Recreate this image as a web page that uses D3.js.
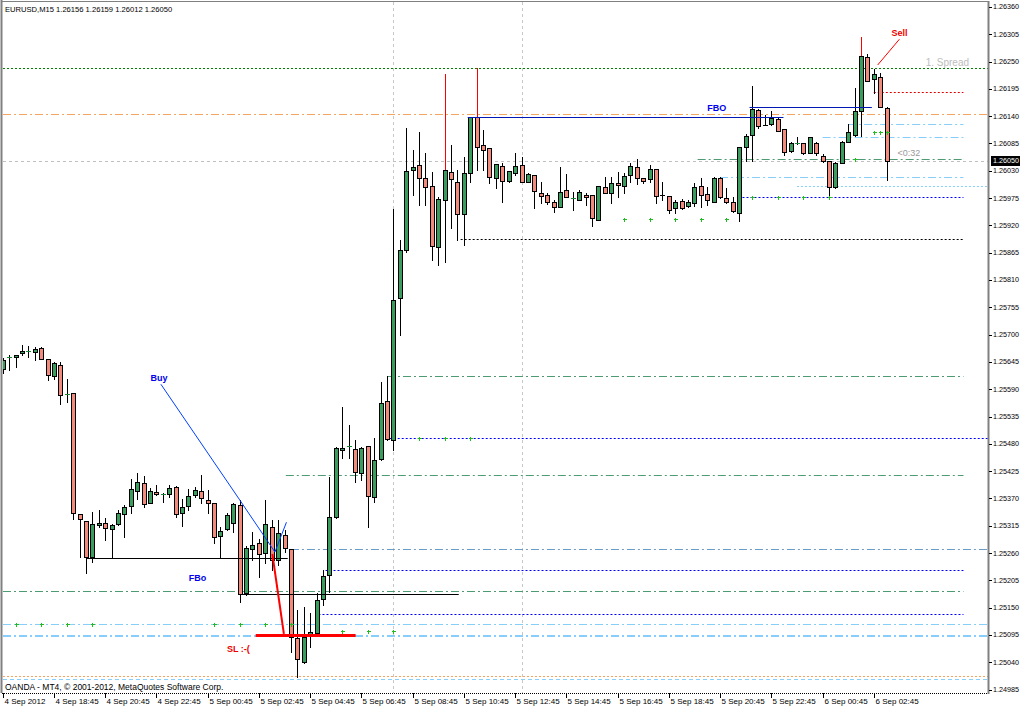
<!DOCTYPE html>
<html><head><meta charset="utf-8">
<script src="https://cdnjs.cloudflare.com/ajax/libs/d3/7.8.5/d3.min.js"></script>
<style>body{margin:0;background:#fff}svg{display:block}</style>
</head><body><svg id="c" width="1020" height="707"></svg>
<script>
// ---------- DATA ----------
const symbolTitle = "EURUSD,M15  1.26156 1.26159 1.26012 1.26050";
const footerText = "OANDA - MT4, \u00a9 2001-2012, MetaQuotes Software Corp.";
const barOpen = [
1.25630,1.25653,1.25655,1.25663,1.25665,1.25665,1.25673,1.25651,1.25616,1.25639,
1.25580,1.25582,1.25338,1.25324,1.25252,1.25316,1.25320,1.25308,1.25318,1.25338,
1.25354,1.25385,1.25401,1.25361,1.25383,1.25377,1.25379,1.25393,1.25340,1.25354,
1.25377,1.25385,1.25367,1.25361,1.25294,1.25308,1.25320,1.25356,1.25179,1.25268,
1.25280,1.25260,1.25312,1.25246,1.25296,1.25268,1.25088,1.25040,1.25092,1.25098,
1.25167,1.25215,1.25332,1.25467,1.25473,1.25469,1.25421,1.25475,1.25373,1.25449,
1.25566,1.25487,1.25774,1.25870,1.26031,1.26042,1.26015,1.25999,1.25876,1.25971,
1.26027,1.26007,1.25943,1.26025,1.26138,1.26082,1.26076,1.26015,1.26040,1.26009,
1.26025,1.26042,1.26007,1.26021,1.25985,1.25981,1.25967,1.25957,1.25991,1.25975,
1.25971,1.25981,1.25981,1.25931,1.25997,1.25985,1.26005,1.25999,1.26021,1.26038,
1.26015,1.26013,1.26034,1.25983,1.25979,1.25955,1.25969,1.25959,1.25965,1.25999,
1.25983,1.25967,1.26015,1.25975,1.25967,1.25945,1.26078,1.26102,1.26152,1.26124,
1.26124,1.26134,1.26114,1.26070,1.26084,1.26086,1.26066,1.26086,1.26060,1.26050,
1.25997,1.26046,1.26088,1.26102,1.26150,1.26259,1.26215,1.26219,1.26156];
const barHigh = [
1.25653,1.25659,1.25659,1.25679,1.25677,1.25675,1.25675,1.25651,1.25645,1.25645,
1.25610,1.25582,1.25338,1.25324,1.25342,1.25346,1.25330,1.25318,1.25346,1.25356,
1.25409,1.25421,1.25415,1.25391,1.25397,1.25381,1.25397,1.25395,1.25369,1.25389,
1.25393,1.25417,1.25387,1.25361,1.25312,1.25340,1.25361,1.25367,1.25274,1.25302,
1.25288,1.25367,1.25326,1.25326,1.25306,1.25268,1.25145,1.25151,1.25139,1.25179,
1.25225,1.25413,1.25473,1.25554,1.25518,1.25487,1.25473,1.25475,1.25491,1.25604,
1.25616,1.25953,1.25890,1.26116,1.26072,1.26108,1.26066,1.26027,1.25977,1.26225,
1.26082,1.26031,1.26058,1.26138,1.26237,1.26112,1.26076,1.26044,1.26046,1.26029,
1.26066,1.26058,1.26025,1.26021,1.26007,1.25985,1.25971,1.26038,1.26023,1.25987,
1.25991,1.25985,1.25981,1.25999,1.26017,1.26017,1.26027,1.26025,1.26046,1.26054,
1.26015,1.26042,1.26034,1.26007,1.25979,1.25971,1.25973,1.25971,1.26005,1.26015,
1.25997,1.26017,1.26017,1.25995,1.25977,1.26078,1.26104,1.26201,1.26154,1.26142,
1.26150,1.26138,1.26114,1.26088,1.26098,1.26086,1.26098,1.26088,1.26064,1.26050,
1.26048,1.26090,1.26124,1.26197,1.26299,1.26265,1.26235,1.26227,1.26159];
const barLow = [
1.25622,1.25628,1.25635,1.25659,1.25655,1.25649,1.25651,1.25608,1.25610,1.25560,
1.25564,1.25328,1.25252,1.25219,1.25242,1.25312,1.25286,1.25250,1.25316,1.25292,
1.25340,1.25369,1.25352,1.25361,1.25377,1.25363,1.25373,1.25332,1.25314,1.25346,
1.25373,1.25361,1.25340,1.25280,1.25252,1.25306,1.25302,1.25161,1.25175,1.25246,
1.25211,1.25240,1.25225,1.25236,1.25262,1.25060,1.25010,1.25038,1.25070,1.25096,
1.25155,1.25181,1.25330,1.25451,1.25451,1.25403,1.25407,1.25312,1.25363,1.25447,
1.25487,1.25467,1.25699,1.25866,1.25981,1.25961,1.25961,1.25850,1.25840,1.25846,
1.25915,1.25890,1.25880,1.26007,1.26031,1.26031,1.26005,1.25995,1.25967,1.26007,
1.26021,1.26007,1.26007,1.25955,1.25965,1.25963,1.25947,1.25957,1.25977,1.25951,
1.25971,1.25961,1.25919,1.25931,1.25985,1.25965,1.25977,1.25985,1.26007,1.26003,
1.26005,1.26007,1.25965,1.25971,1.25945,1.25945,1.25953,1.25957,1.25959,1.25957,
1.25961,1.25967,1.25975,1.25965,1.25947,1.25929,1.26050,1.26050,1.26116,1.26122,
1.26122,1.26110,1.26062,1.26068,1.26084,1.26064,1.26066,1.26062,1.26048,1.25977,
1.25995,1.26046,1.26088,1.26100,1.26100,1.26211,1.26187,1.26158,1.26012];
const barClose = [
1.25649,1.25655,1.25659,1.25667,1.25667,1.25671,1.25651,1.25618,1.25643,1.25578,
1.25581,1.25340,1.25328,1.25252,1.25318,1.25320,1.25310,1.25316,1.25340,1.25352,
1.25389,1.25403,1.25358,1.25385,1.25379,1.25378,1.25391,1.25338,1.25352,1.25375,
1.25387,1.25371,1.25361,1.25292,1.25304,1.25336,1.25358,1.25177,1.25270,1.25276,
1.25258,1.25318,1.25246,1.25300,1.25270,1.25090,1.25046,1.25090,1.25100,1.25165,
1.25213,1.25332,1.25471,1.25471,1.25475,1.25423,1.25471,1.25375,1.25447,1.25562,
1.25489,1.25770,1.25870,1.26029,1.26038,1.26015,1.25997,1.25878,1.25973,1.26031,
1.26013,1.25943,1.26025,1.26138,1.26078,1.26072,1.26017,1.26044,1.26009,1.26029,
1.26040,1.26007,1.26023,1.25989,1.25979,1.25967,1.25957,1.25987,1.25977,1.25976,
1.25987,1.25977,1.25935,1.25999,1.25985,1.26005,1.26001,1.26019,1.26040,1.26015,
1.26009,1.26034,1.25979,1.25981,1.25951,1.25967,1.25955,1.25967,1.25997,1.25981,
1.25971,1.26015,1.25977,1.25967,1.25949,1.26078,1.26100,1.26154,1.26120,1.26122,
1.26136,1.26110,1.26068,1.26086,1.26086,1.26066,1.26098,1.26066,1.26050,1.25997,
1.26046,1.26088,1.26108,1.26150,1.26261,1.26211,1.26225,1.26158,1.26050];

const yTickValues = [1.26360,1.26305,1.26250,1.26195,1.26140,1.26085,1.26030,1.25975,1.25920,1.25865,
  1.25810,1.25755,1.25700,1.25645,1.25590,1.25535,1.25480,1.25425,1.25370,1.25315,1.25260,1.25205,
  1.25150,1.25095,1.25040,1.24985];
const xTickBars = [0,8,16,24,32,40,48,56,64,72,80,88,96,104,112,120,128,136];
const xTickLabels = ["4 Sep 2012","4 Sep 18:45","4 Sep 20:45","4 Sep 22:45","5 Sep 00:45","5 Sep 02:45",
  "5 Sep 04:45","5 Sep 06:45","5 Sep 08:45","5 Sep 10:45","5 Sep 12:45","5 Sep 14:45","5 Sep 16:45",
  "5 Sep 18:45","5 Sep 20:45","5 Sep 22:45","6 Sep 00:45","6 Sep 02:45"];
const bidPrice = 1.26050;
const separatorBars = [61, 81];
const spikeBars = [69, 74, 134];   // bars whose upper wick shows as a red spike

// horizontal levels (null = chart edge)
const levelPrice = [1.26237,1.26144,1.26189,1.26124,1.26098,1.26054,1.26017,1.25999,1.25977,1.25892,
  1.25616,1.25491,1.25417,1.25268,1.25225,1.25183,1.25137,1.25117,1.25092,1.25012,1.25006];
const levelFrom  = [null,null,136,132,128,108.5,112,124,115.5,71.5,60,59.8,44.2,45,50.4,null,49.3,null,null,null,null];
const levelTo    = [null,null,150,150,150,150,150,null,150,150,150,null,150,null,150,150,150,null,null,null,null];
const levelKind  = ["greenDot","orangeDashDot","redDot","skyDashDot","skyDashDot","greenDashDot","skyDashDot",
  "skyDot","blueDot","blackDot","greenDashDot","blueDot","greenDashDot","steelDashDot","blueDot","greenDashDot",
  "blueDot","skyDashDot","skyDashDotThick","orangeDot","skyDash"];

// drawn objects (bar index, price)
const segFromBar   = [13.1,37.2,72.6,116.6,39.5,24.7,37.0,42.5,42.1,140.0];
const segFromPrice = [1.25250,1.25177,1.26138,1.26158,1.25094,1.25600,1.25367,1.25262,1.25258,1.26295];
const segToBar     = [44.5,71.2,121.9,135.7,55.1,37.0,42.5,44.3,43.9,136.6];
const segToPrice   = [1.25250,1.25177,1.26138,1.26158,1.25094,1.25367,1.25262,1.25322,1.25097,1.26243];
const segKind      = ["black","black","navy","navy","redThick","blue","blue","blue","redMid","red"];

const labelText  = ["Buy","FBo","SL :-(","FBO","Sell","<0:32","1. Spread"];
const labelBar   = [24.4,30.4,36.8,111.5,140.0,139.7,144.1];
const labelPrice = [1.25606,1.25203,1.25060,1.26150,1.26301,1.26060,1.26241];
const labelKind  = ["blue","blue","red","blue","red","grayStart","lightStart"];

const markBar   = [2,6,10,14,33,37,41,45,53,57,61,65,69,73,97,101,105,109,113,117,121,125,129,133,136,137,138];
const markPrice = [1.25117,1.25117,1.25117,1.25117,1.25117,1.25117,1.25117,1.25117,1.25103,1.25103,1.25103,
  1.25491,1.25491,1.25491,1.25933,1.25933,1.25933,1.25933,1.25933,1.25977,1.25977,1.25977,1.25977,1.26054,
  1.26108,1.26108,1.26108];

// ---------- DRAW ----------
const svg = d3.select('#c');
const P = {l:3, r:988, t:2, b:693};
const x = d3.scaleLinear().domain([0,138]).range([2.7,886.6]);
const y = d3.scaleLinear().domain([1.24976,1.26370]).range([694,2]);
const FONT = "'Liberation Sans', Arial, sans-serif";

svg.append('defs').append('clipPath').attr('id','plot')
  .append('rect').attr('x',P.l).attr('y',P.t).attr('width',P.r-P.l).attr('height',P.b-P.t);
const g = svg.append('g').attr('clip-path','url(#plot)');

const levelStyle = {
  greenDot:{c:'#008000',d:'2,2',w:1},
  orangeDashDot:{c:'#f4a460',d:'8,3,2,3',w:1},
  redDot:{c:'#e00000',d:'2,2',w:1},
  skyDashDot:{c:'#87cefa',d:'8,3,2,3',w:1},
  skyDashDotThick:{c:'#87cefa',d:'8,3,2,3',w:2},
  skyDot:{c:'#87cefa',d:'2,2',w:1},
  skyDash:{c:'#87cefa',d:'4,3',w:1},
  greenDashDot:{c:'#4e9a72',d:'8,3,2,3',w:1},
  steelDashDot:{c:'#6a9cc8',d:'8,3,2,3',w:1},
  blueDot:{c:'#0000ff',d:'2,2',w:1},
  blackDot:{c:'#000000',d:'2,2',w:1},
  orangeDot:{c:'#f4a460',d:'2,2',w:1}
};
const cy = v => Math.round(y(v)) + 0.5;
const cx = i => Math.round(x(i)) + 0.5;

// separators
g.selectAll('.sep').data(separatorBars).join('line')
  .attr('x1',d=>cx(d)).attr('x2',d=>cx(d)).attr('y1',P.t).attr('y2',P.b)
  .attr('stroke','#c8c8c8').attr('stroke-dasharray','3,3');
// bid line
g.append('line').attr('x1',P.l).attr('x2',P.r).attr('y1',cy(bidPrice)).attr('y2',cy(bidPrice))
  .attr('stroke','#c0c0c0').attr('stroke-dasharray','3,3');

// levels
levelPrice.forEach((p,k)=>{
  const s = levelStyle[levelKind[k]];
  g.append('line')
    .attr('x1', levelFrom[k]===null ? P.l : x(levelFrom[k]))
    .attr('x2', levelTo[k]===null ? P.r : x(levelTo[k]))
    .attr('y1', s.w===2 ? Math.round(y(p)) : cy(p)).attr('y2', s.w===2 ? Math.round(y(p)) : cy(p))
    .attr('stroke', s.c).attr('stroke-width', s.w).attr('stroke-dasharray', s.d);
});

// candles
const bars = d3.range(barOpen.length).map(i=>({i,o:barOpen[i],h:barHigh[i],l:barLow[i],c:barClose[i]}));
const cg = g.append('g').attr('shape-rendering','crispEdges');
cg.selectAll('.wick').data(bars).join('line')
  .attr('x1',d=>cx(d.i)).attr('x2',d=>cx(d.i)).attr('y1',d=>Math.round(y(d.h))).attr('y2',d=>Math.round(y(d.l))+1)
  .attr('stroke','#000');
cg.selectAll('.spike').data(bars.filter(d=>spikeBars.includes(d.i))).join('line')
  .attr('x1',d=>cx(d.i)).attr('x2',d=>cx(d.i)).attr('y1',d=>Math.round(y(d.h)))
  .attr('y2',d=>Math.round(y(Math.max(d.o,d.c))))
  .attr('stroke','#ff0000');
cg.selectAll('.body').data(bars.filter(d=>Math.abs(Math.round(y(d.o))-Math.round(y(d.c)))>=2)).join('rect')
  .attr('x',d=>Math.round(x(d.i))-1.5).attr('width',4)
  .attr('y',d=>Math.round(y(Math.max(d.o,d.c)))+0.5)
  .attr('height',d=>Math.round(y(Math.min(d.o,d.c)))-Math.round(y(Math.max(d.o,d.c))))
  .attr('fill',d=>d.c>d.o?'#3a9d5d':'#f28b7c').attr('stroke','#000');
cg.selectAll('.doji').data(bars.filter(d=>Math.abs(Math.round(y(d.o))-Math.round(y(d.c)))<2)).join('line')
  .attr('x1',d=>Math.round(x(d.i))-2).attr('x2',d=>Math.round(x(d.i))+3)
  .attr('y1',d=>cy(d.c)).attr('y2',d=>cy(d.c))
  .attr('stroke',d=>d.c>=d.o?'#1a8a3a':'#000');

// drawn segments
const segStyle = {
  black:{c:'#000',w:1}, navy:{c:'#0018b4',w:1}, redThick:{c:'#ff0000',w:3},
  blue:{c:'#0040ff',w:1}, redMid:{c:'#ff0000',w:2}, red:{c:'#ff0000',w:1}
};
segFromBar.forEach((b,k)=>{
  const s = segStyle[segKind[k]];
  const flat = segFromPrice[k]===segToPrice[k];
  g.append('line')
    .attr('x1',x(b)).attr('x2',x(segToBar[k]))
    .attr('y1',flat?cy(segFromPrice[k]):y(segFromPrice[k])).attr('y2',flat?cy(segToPrice[k]):y(segToPrice[k]))
    .attr('stroke',s.c).attr('stroke-width',s.w);
});

// green markers
const mg = g.append('g').attr('shape-rendering','crispEdges').attr('stroke','#22bb22');
markBar.forEach((b,k)=>{
  const X = cx(b), Y = cy(markPrice[k]);
  mg.append('line').attr('x1',X-2).attr('x2',X+2).attr('y1',Y).attr('y2',Y);
  mg.append('line').attr('x1',X).attr('x2',X).attr('y1',Y-2).attr('y2',Y+2);
});

// labels
const labelStyle = {
  blue:{c:'#0000ee',w:'bold',s:9,a:'middle'},
  red:{c:'#ee0000',w:'bold',s:9,a:'middle'},
  grayStart:{c:'#999',w:'normal',s:9,a:'start'},
  lightStart:{c:'#bdbdbd',w:'normal',s:10,a:'start'}
};
labelText.forEach((t,k)=>{
  const s = labelStyle[labelKind[k]];
  svg.append('text').attr('x',x(labelBar[k])).attr('y',y(labelPrice[k]))
    .attr('fill',s.c).attr('font-weight',s.w).attr('font-size',s.s).attr('text-anchor',s.a)
    .attr('font-family',FONT).text(t);
});

// frame
svg.append('line').attr('x1',1.5).attr('x2',1.5).attr('y1',0).attr('y2',P.b).attr('stroke','#808080').attr('stroke-width',2);
svg.append('line').attr('x1',1).attr('x2',P.r).attr('y1',1.5).attr('y2',1.5).attr('stroke','#808080');
svg.append('line').attr('x1',P.r+0.5).attr('x2',P.r+0.5).attr('y1',1).attr('y2',P.b+1).attr('stroke','#808080').attr('stroke-width',2);
svg.append('line').attr('x1',2).attr('x2',P.r).attr('y1',P.b+0.5).attr('y2',P.b+0.5).attr('stroke','#000').attr('stroke-dasharray','1,1');

// y axis
const ya = svg.append('g').attr('font-family',FONT).attr('font-size',7.2);
yTickValues.forEach(v=>{
  ya.append('line').attr('x1',P.r+1).attr('x2',P.r+4).attr('y1',cy(v)).attr('y2',cy(v)).attr('stroke','#000');
  ya.append('text').attr('x',P.r+5).attr('y',y(v)+2.5).attr('fill','#000').text(d3.format('.5f')(v));
});
ya.append('rect').attr('x',P.r+3).attr('y',Math.round(y(bidPrice))-5).attr('width',29).attr('height',10).attr('fill','#000');
ya.append('text').attr('x',P.r+5).attr('y',y(bidPrice)+2.5).attr('fill','#fff').text(d3.format('.5f')(bidPrice));

// x axis
const xa = svg.append('g').attr('font-family',FONT).attr('font-size',8);
xTickBars.forEach((b,k)=>{
  const X = b===0 ? 3.5 : cx(b);
  xa.append('line').attr('x1',X).attr('x2',X).attr('y1',P.b).attr('y2',P.b+5).attr('stroke','#000');
  xa.append('text').attr('x',X+1).attr('y',704).attr('fill','#000').text(xTickLabels[k]);
});

// title & footer
svg.append('text').attr('x',5).attr('y',12).attr('font-family',FONT).attr('font-size',7.6).attr('fill','#000').text(symbolTitle);
svg.append('text').attr('x',5).attr('y',690).attr('font-family',FONT).attr('font-size',8.5).attr('fill','#000').text(footerText);
</script>
</body></html>
